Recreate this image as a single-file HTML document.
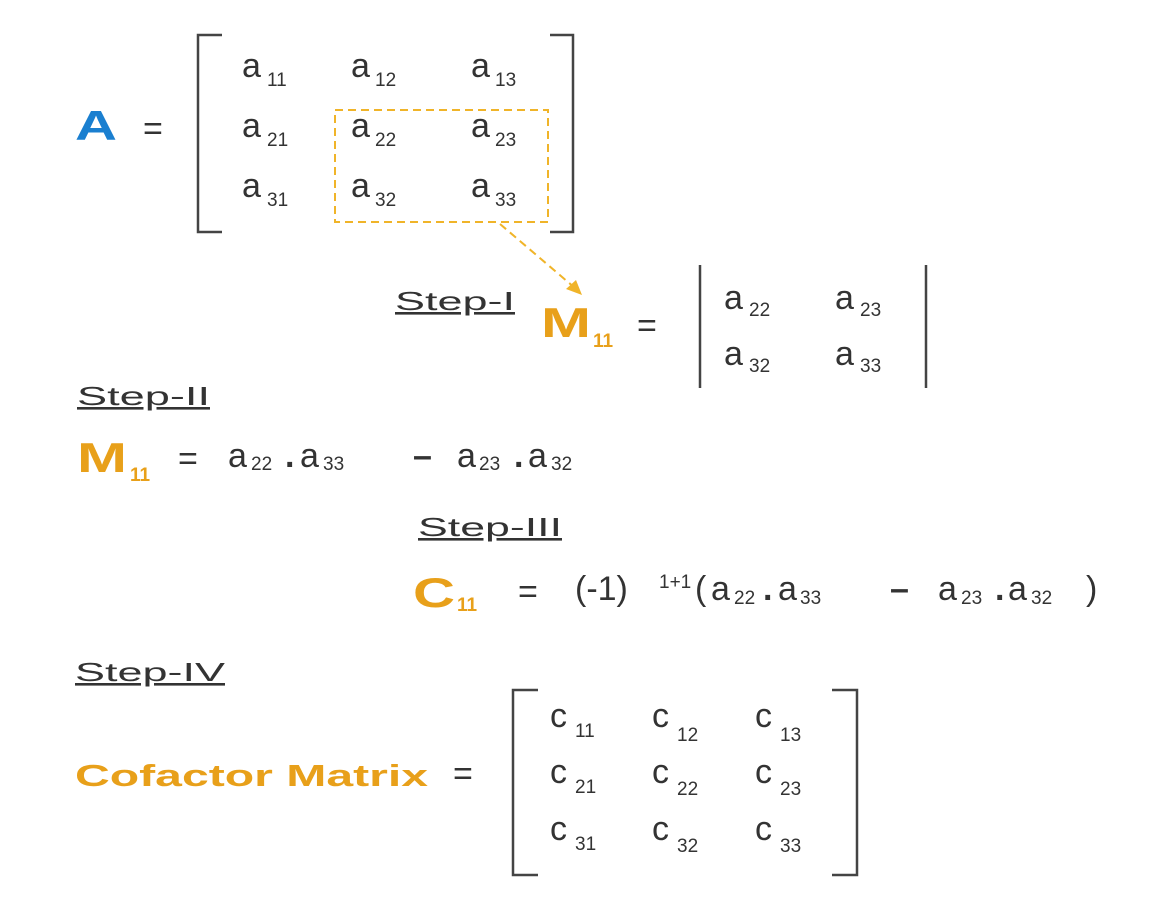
<!DOCTYPE html>
<html><head><meta charset="utf-8"><style>
html,body{margin:0;padding:0;background:#fff;width:1151px;height:900px;overflow:hidden}
svg{display:block;font-family:"Liberation Sans",sans-serif}
.t{fill:#333;font-size:34px}
.s{fill:#333;font-size:19px}
.o{fill:#e8a01a;font-weight:bold}
.st{fill:#333;font-size:26px}
</style></head><body>
<svg width="1151" height="900" viewBox="0 0 1151 900">
<g>
<text x="75" y="140" font-size="42" font-weight="bold" fill="#1a7fd0" textLength="42" lengthAdjust="spacingAndGlyphs">A</text>
<text x="143" y="140" class="t">=</text>
<path d="M222 35H198V232H222M550 35H573V232H550" fill="none" stroke="#444" stroke-width="2.5"/>
<g>
<text x="242" y="77" class="t">a</text><text x="267" y="86" class="s">11</text>
<text x="351" y="77" class="t">a</text><text x="375" y="86" class="s">12</text>
<text x="471" y="77" class="t">a</text><text x="495" y="86" class="s">13</text>
<text x="242" y="137" class="t">a</text><text x="267" y="146" class="s">21</text>
<text x="351" y="137" class="t">a</text><text x="375" y="146" class="s">22</text>
<text x="471" y="137" class="t">a</text><text x="495" y="146" class="s">23</text>
<text x="242" y="197" class="t">a</text><text x="267" y="206" class="s">31</text>
<text x="351" y="197" class="t">a</text><text x="375" y="206" class="s">32</text>
<text x="471" y="197" class="t">a</text><text x="495" y="206" class="s">33</text>
</g>
<rect x="335" y="110" width="213" height="112" fill="none" stroke="#f0b429" stroke-width="2" stroke-dasharray="8,5"/>
<path d="M500 224L575 288" stroke="#f0b429" stroke-width="2" stroke-dasharray="8,5" fill="none"/>
<path d="M582 295L566 289L576 280Z" fill="#f0b429"/>
</g>
<g>
<text x="395" y="310" class="st" text-decoration="underline" textLength="120" lengthAdjust="spacingAndGlyphs">Step-I</text>
<text x="541" y="337" font-size="42" class="o" textLength="50" lengthAdjust="spacingAndGlyphs">M</text><text x="593" y="347" font-size="19" class="o">11</text>
<text x="637" y="337" class="t">=</text>
<path d="M700 265V388M926 265V388" stroke="#444" stroke-width="2.5"/>
<text x="724" y="309" class="t">a</text><text x="749" y="316" class="s">22</text>
<text x="835" y="309" class="t">a</text><text x="860" y="316" class="s">23</text>
<text x="724" y="365" class="t">a</text><text x="749" y="372" class="s">32</text>
<text x="835" y="365" class="t">a</text><text x="860" y="372" class="s">33</text>
</g>
<g>
<text x="77" y="405" class="st" text-decoration="underline" textLength="133" lengthAdjust="spacingAndGlyphs">Step-II</text>
<text x="77" y="472" font-size="42" class="o" textLength="50" lengthAdjust="spacingAndGlyphs">M</text><text x="130" y="481" font-size="19" class="o">11</text>
<text x="178" y="470" class="t">=</text>
<text x="228" y="467" class="t">a</text><text x="251" y="470" class="s">22</text><text x="285" y="467" class="t" font-weight="bold">.</text>
<text x="300" y="467" class="t">a</text><text x="323" y="470" class="s">33</text>
<text x="413" y="467" class="t" font-weight="bold">–</text>
<text x="457" y="467" class="t">a</text><text x="479" y="470" class="s">23</text><text x="514" y="467" class="t" font-weight="bold">.</text>
<text x="528" y="467" class="t">a</text><text x="551" y="470" class="s">32</text>
</g>
<g>
<text x="418" y="536" class="st" text-decoration="underline" textLength="144" lengthAdjust="spacingAndGlyphs">Step-III</text>
<text x="413" y="607" font-size="42" class="o" textLength="42" lengthAdjust="spacingAndGlyphs">C</text><text x="457" y="611" font-size="19" class="o">11</text>
<text x="518" y="603" class="t">=</text>
<text x="575" y="600" class="t">(-1)</text><text x="659" y="588" class="s">1+1</text>
<text x="695" y="600" class="t">(</text><text x="711" y="600" class="t">a</text><text x="734" y="604" class="s">22</text><text x="763" y="600" class="t" font-weight="bold">.</text>
<text x="778" y="600" class="t">a</text><text x="800" y="604" class="s">33</text>
<text x="890" y="600" class="t" font-weight="bold">–</text>
<text x="938" y="600" class="t">a</text><text x="961" y="604" class="s">23</text><text x="995" y="600" class="t" font-weight="bold">.</text>
<text x="1008" y="600" class="t">a</text><text x="1031" y="604" class="s">32</text><text x="1086" y="600" class="t">)</text>
</g>
<g>
<text x="75" y="681" class="st" text-decoration="underline" textLength="150" lengthAdjust="spacingAndGlyphs">Step-IV</text>
<text x="75" y="786" font-size="31" class="o" textLength="353" lengthAdjust="spacingAndGlyphs">Cofactor Matrix</text>
<text x="453" y="785" class="t">=</text>
<path d="M538 690H513V875H538M832 690H857V875H832" fill="none" stroke="#444" stroke-width="2.5"/>
<g>
<text x="550" y="727" class="t">c</text><text x="575" y="737" class="s">11</text>
<text x="652" y="727" class="t">c</text><text x="677" y="741" class="s">12</text>
<text x="755" y="727" class="t">c</text><text x="780" y="741" class="s">13</text>
<text x="550" y="783" class="t">c</text><text x="575" y="793" class="s">21</text>
<text x="652" y="783" class="t">c</text><text x="677" y="795" class="s">22</text>
<text x="755" y="783" class="t">c</text><text x="780" y="795" class="s">23</text>
<text x="550" y="840" class="t">c</text><text x="575" y="850" class="s">31</text>
<text x="652" y="840" class="t">c</text><text x="677" y="852" class="s">32</text>
<text x="755" y="840" class="t">c</text><text x="780" y="852" class="s">33</text>
</g>
</g>
</svg>
</body></html>
